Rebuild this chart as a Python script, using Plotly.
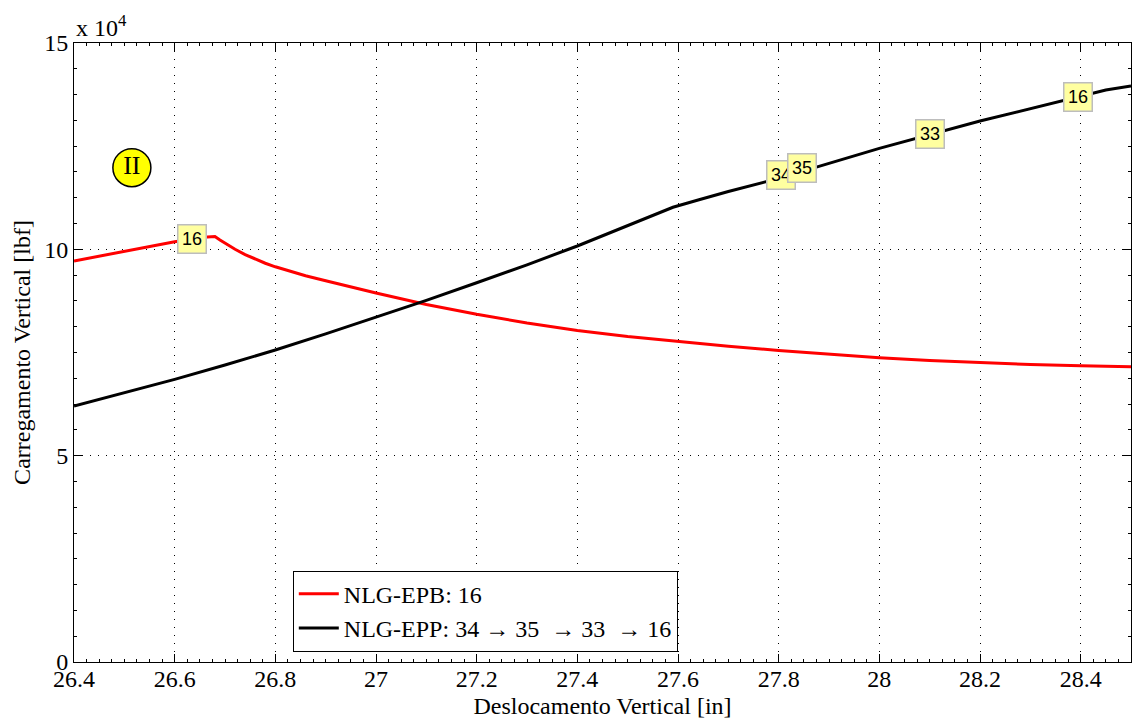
import plotly.graph_objects as go

# Red series: NLG-EPB
epb_x = [26.40, 26.50, 26.60, 26.665, 26.68, 26.69, 26.70, 26.72, 26.74, 26.76, 26.78,
         26.80, 26.83, 26.86, 26.90, 26.95, 27.00, 27.10, 27.20, 27.30, 27.40, 27.50,
         27.60, 27.70, 27.80, 27.90, 28.00, 28.10, 28.20, 28.30, 28.40, 28.50]
epb_y = [97170, 99500, 101850, 103000, 103100, 102250, 101450, 100010, 98730, 97610, 96630,
         95770, 94630, 93610, 92370, 90850, 89400, 86650, 84250, 82150, 80350, 78850,
         77600, 76500, 75500, 74550, 73700, 73050, 72500, 72100, 71800, 71560]

# Black series: NLG-EPP
epp_x = [26.40, 26.50, 26.60, 26.70, 26.80, 26.90, 27.00, 27.10, 27.20, 27.30, 27.40,
         27.50, 27.59, 27.64, 27.70, 27.80, 28.00, 28.20, 28.40, 28.45, 28.50]
epp_y = [62040, 65200, 68490, 71980, 75610, 79500, 83530, 87650, 91910, 96250, 100810,
         105750, 110200, 111950, 114000, 117200, 124470, 131090, 137150, 138600, 139580]

# Data tips
tip_x = [26.634, 27.805, 27.847, 28.100, 28.394]
tip_y = [102500, 118010, 119590, 127990, 137010]
tip_text = ["16", "34", "35", "33", "16"]

# Region badge
badge_x = [26.515]
badge_y = [119780]
badge_text = ["II"]

x_ticks = [26.4, 26.6, 26.8, 27.0, 27.2, 27.4, 27.6, 27.8, 28.0, 28.2, 28.4]
x_ticktext = ["26.4", "26.6", "26.8", "27", "27.2", "27.4", "27.6", "27.8", "28", "28.2", "28.4"]
y_ticks = [0, 50000, 100000, 150000]
y_ticktext = ["0", "5", "10", "15"]

SERIF = "Liberation Serif"
NB = "\u00a0"

fig = go.Figure()
fig.add_trace(go.Scatter(x=epb_x, y=epb_y, mode="lines", name="NLG-EPB: 16",
                         line=dict(color="#ff0000", width=3)))
fig.add_trace(go.Scatter(x=epp_x, y=epp_y, mode="lines",
                         name="NLG-EPP: 34 \u2192 35 " + NB + "\u2192 33 " + NB + "\u2192 16",
                         line=dict(color="#000000", width=3)))
fig.add_trace(go.Scatter(x=badge_x, y=badge_y, mode="markers+text", text=badge_text,
                         textposition="middle center", showlegend=False, hoverinfo="skip",
                         marker=dict(size=38, color="#ffff00", line=dict(color="black", width=1.5)),
                         textfont=dict(family=SERIF, size=26, color="black")))

for tx, ty, tt in zip(tip_x, tip_y, tip_text):
    fig.add_annotation(x=tx, y=ty, xref="x", yref="y", text=tt, showarrow=False,
                       font=dict(family="Liberation Sans", size=18, color="black"),
                       bgcolor="#ffffa0", bordercolor="#bdbdbd", borderwidth=1.5,
                       borderpad=1, width=25, height=25)

fig.add_annotation(x=0, y=1.0, xref="paper", yref="paper", xanchor="left", yanchor="bottom",
                   text="x 10<sup>4</sup>", showarrow=False, yshift=0,
                   font=dict(family=SERIF, size=24, color="black"))

axis_common = dict(showline=True, linecolor="black", linewidth=1, mirror="allticks",
                   ticks="inside", ticklen=8, tickcolor="black", tickwidth=1,
                   showgrid=True, gridcolor="black", gridwidth=1, griddash="1px,7px",
                   zeroline=False, tickfont=dict(family=SERIF, size=24, color="black"))

fig.update_xaxes(range=[26.4, 28.5], tickvals=x_ticks, ticktext=x_ticktext,
                 ticklabelstandoff=-5,
                 minor=dict(ticks="inside", ticklen=3, dtick=0.025, tick0=26.4,
                            tickcolor="black", showgrid=False),
                 title=dict(text="Deslocamento Vertical [in]", standoff=6,
                            font=dict(family=SERIF, size=24, color="black")),
                 **axis_common)
fig.update_yaxes(range=[0, 150000], tickvals=y_ticks, ticktext=y_ticktext,
                 minor=dict(ticks="inside", ticklen=3, dtick=6250, tick0=0,
                            tickcolor="black", showgrid=False),
                 title=dict(text="Carregamento Vertical [lbf]", standoff=6,
                            font=dict(family=SERIF, size=24, color="black")),
                 **axis_common)

fig.update_layout(
    width=1135, height=720,
    margin=dict(l=74, r=4, t=43, b=58, autoexpand=False),
    paper_bgcolor="white", plot_bgcolor="white",
    showlegend=True,
    legend=dict(x=0.207, y=0.0166, xanchor="left", yanchor="bottom",
                bgcolor="white", bordercolor="black", borderwidth=1,
                font=dict(family=SERIF, size=24, color="black"),
                tracegroupgap=0, itemwidth=40),
)

fig.write_html("out.html")
